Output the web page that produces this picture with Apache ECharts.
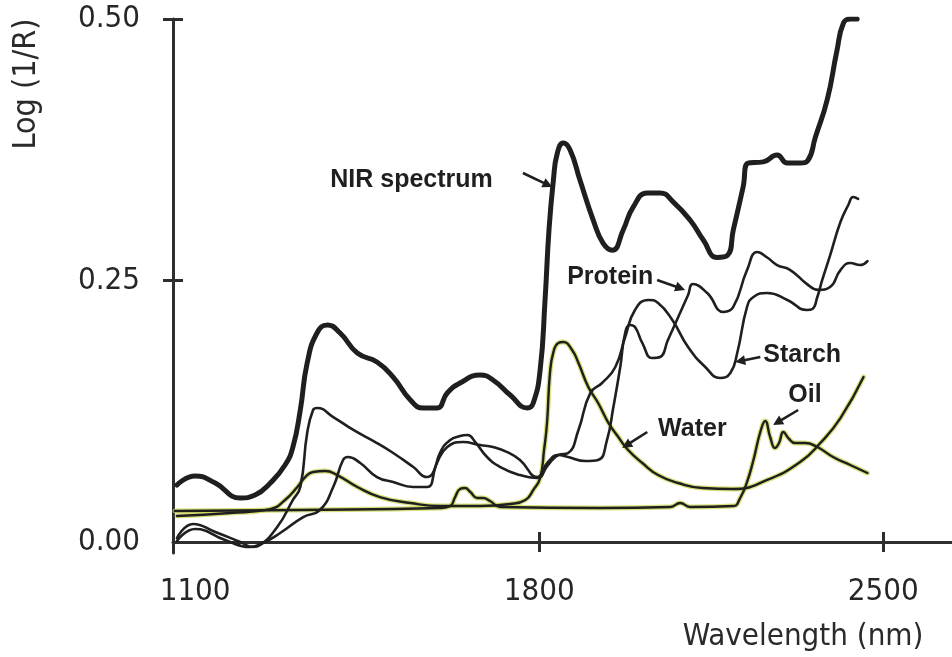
<!DOCTYPE html>
<html>
<head>
<meta charset="utf-8">
<script src="https://cdn.jsdelivr.net/npm/echarts@6/dist/echarts.min.js"></script>
<style>
  html, body { margin: 0; padding: 0; background: #ffffff; }
  #chart { width: 952px; height: 657px; }
</style>
</head>
<body>
<div id="chart"></div>
<script>
// Wavelength (nm) and log(1/R) pairs for each spectrum
const nirSpectrum = [
  [1063,0.0545],[1100,0.0631],[1141,0.0564],[1192,0.0421],[1222,0.0449],[1253,0.0564],
  [1283,0.0736],[1299,0.0908],[1314,0.1262],[1328,0.1711],[1348,0.1998],[1369,0.2075],
  [1395,0.1998],[1430,0.1807],[1470,0.1721],[1503,0.1577],[1538,0.1358],[1564,0.1281],
  [1592,0.1281],[1613,0.1424],[1639,0.152],[1680,0.1597],[1706,0.1549],[1741,0.1405],
  [1776,0.1281],[1788,0.1329],[1802,0.1645],[1812,0.2314],[1820,0.2983],[1829,0.346],
  [1837,0.3719],[1849,0.3814],[1863,0.3748],[1883,0.346],[1910,0.3078],[1930,0.2858],
  [1949,0.279],[1971,0.2983],[1991,0.32],[2020,0.3337],[2046,0.3337],[2073,0.325],
  [2107,0.3078],[2134,0.2887],[2162,0.272],[2183,0.274],[2195,0.2983],[2215,0.3394],
  [2225,0.3623],[2256,0.3634],[2284,0.37],[2305,0.3623],[2331,0.3623],[2347,0.365],
  [2362,0.387],[2386,0.4226],[2406,0.47],[2419,0.496],[2433,0.5],[2447,0.5]
];
const waterBand = [
  [1063,0.0249],[1171,0.0277],[1253,0.0315],[1283,0.0402],[1308,0.0526],[1324,0.0621],
  [1340,0.0669],[1365,0.0679],[1389,0.064],[1430,0.0526],[1476,0.043],[1538,0.0373],
  [1599,0.0344],[1680,0.0344],[1741,0.0363],[1772,0.0402],[1788,0.0497],[1802,0.0612],
  [1810,0.088],[1816,0.1138],[1822,0.1616],[1829,0.1816],[1839,0.1902],[1849,0.1912],
  [1867,0.1836],[1880,0.1711],[1900,0.1482],[1920,0.1329],[1940,0.1147],[1961,0.1004],
  [1981,0.088],[2010,0.0755],[2042,0.064],[2083,0.0564],[2132,0.0516],[2195,0.0507],
  [2264,0.0593],[2331,0.0765],[2372,0.0946],[2413,0.1185],[2460,0.1577]
];
const oilBand = [
  [1059,0.0296],[1314,0.0306],[1599,0.0325],[1619,0.0344],[1629,0.043],[1639,0.0507],
  [1649,0.0516],[1660,0.0478],[1674,0.0421],[1686,0.0421],[1700,0.0392],[1721,0.0335],
  [1924,0.0325],[2067,0.0335],[2087,0.0373],[2107,0.0335],[2195,0.0344],[2209,0.0421],
  [2223,0.0574],[2236,0.0784],[2250,0.1052],[2260,0.1157],[2270,0.1004],[2280,0.0899],
  [2288,0.0946],[2297,0.1052],[2307,0.0994],[2321,0.0946],[2341,0.0946],[2366,0.0908],
  [2398,0.0813],[2433,0.0736],[2468,0.066]
];
const proteinBand = [
  [1063,0.001],[1100,0.0124],[1161,0.0019],[1212,-0.0048],[1238,-0.001],[1273,0.0086],
  [1320,0.0239],[1354,0.0306],[1381,0.0526],[1401,0.0784],[1411,0.0813],[1436,0.0755],
  [1470,0.0621],[1503,0.0574],[1544,0.0526],[1572,0.0526],[1592,0.0755],[1613,0.0908],
  [1645,0.0956],[1680,0.0927],[1706,0.0908],[1735,0.086],[1761,0.0784],[1796,0.0621],
  [1818,0.0765],[1839,0.0832],[1859,0.0813],[1894,0.0774],[1920,0.0784],[1938,0.0975],
  [1951,0.129],[1965,0.1673],[1975,0.1998],[1985,0.2075],[1995,0.2055],[2010,0.1902],
  [2030,0.1759],[2046,0.1769],[2062,0.1931],[2083,0.2151],[2103,0.2361],[2113,0.2466],
  [2142,0.238],[2175,0.2199],[2195,0.2247],[2223,0.26],[2244,0.2772],[2264,0.272],
  [2284,0.2648],[2311,0.26],[2345,0.2466],[2368,0.241],[2392,0.2438],[2413,0.26],
  [2433,0.2667],[2453,0.2648],[2468,0.2686]
];
const starchBand = [
  [1063,0.0038],[1096,0.0172],[1141,0.0096],[1192,0.0],[1218,-0.0048],[1232,-0.0029],
  [1267,0.0143],[1299,0.0402],[1314,0.0526],[1328,0.1042],[1340,0.1262],[1348,0.1281],
  [1381,0.1195],[1422,0.1071],[1470,0.0946],[1503,0.0851],[1544,0.0717],[1572,0.0621],
  [1584,0.066],[1599,0.086],[1619,0.0975],[1639,0.1013],[1654,0.1023],[1670,0.0956],
  [1694,0.0813],[1721,0.0717],[1761,0.064],[1796,0.0612],[1818,0.0736],[1839,0.0832],
  [1859,0.0851],[1880,0.1071],[1904,0.1424],[1928,0.152],[1955,0.1673],[1975,0.196],
  [1995,0.2218],[2022,0.2314],[2042,0.2285],[2071,0.2122],[2103,0.1864],[2138,0.1673],
  [2168,0.1568],[2189,0.1616],[2203,0.1807],[2223,0.2247],[2236,0.2342],[2264,0.238],
  [2305,0.2314],[2345,0.2218],[2356,0.2228],[2366,0.2342],[2376,0.2505],[2392,0.274],
  [2413,0.3059],[2429,0.3222],[2439,0.3298],[2449,0.328]
];

// Axis tick values
const wavelengthLabels = [1100, 1800, 2500];
const wavelengthTicks = [1800, 2500];
const absorbanceLabels = [0, 0.25, 0.5];
const absorbanceTicks = [0.25, 0.5];

// Callouts: text, text anchor (left, middle) and arrow tail -> head, in data units
const calloutText = ['NIR spectrum', 'Protein', 'Starch', 'Water', 'Oil'];
const calloutAnchor = [[1375,0.346],[1857,0.2533],[2256,0.1788],[2042,0.108],[2307,0.1405]];
const calloutTail = [[1767,0.3528],[2040,0.2505],[2250,0.1769],[2020,0.1052],[2327,0.1262]];
const calloutHead = [[1827,0.3394],[2097,0.241],[2199,0.1721],[1969,0.0899],[2276,0.1119]];

const INK = '#1f1f1f';
const AXIS = '#2e2e2e';
const GLOW = 'rgba(206,214,80,0.75)';
const tickFont = 'DejaVu Sans Condensed, DejaVu Sans, sans-serif';

const chart = echarts.init(document.getElementById('chart'), null, { renderer: 'canvas' });

function bandSeries(name, data, width, glow) {
  const out = [];
  const common = { type: 'line', data: data, showSymbol: false, symbol: 'none',
    smooth: 0.5, silent: true, animation: false };
  if (glow) {
    out.push(Object.assign({}, common, { name: name + ' glow', z: 2,
      lineStyle: { color: GLOW, width: width + 2.5, cap: 'round', join: 'round' } }));
  }
  out.push(Object.assign({}, common, { name: name, z: 3,
    lineStyle: { color: INK, width: width, cap: 'round', join: 'round' } }));
  return out;
}

const xMin = 1055, xMax = 2640, yMin = -0.0105, yMax = 0.5;

chart.setOption({
  backgroundColor: '#ffffff',
  animation: false,
  grid: { left: 173, right: 0, top: 19, bottom: 104, containLabel: false },
  xAxis: [
    {
      type: 'value', min: xMin, max: xMax, position: 'bottom',
      axisLine: { show: true, lineStyle: { color: AXIS, width: 3 } },
      axisTick: { show: true, inside: false, length: 10, customValues: wavelengthTicks,
        lineStyle: { color: AXIS, width: 3 } },
      axisLabel: { show: true, customValues: wavelengthLabels, margin: 23,
        fontFamily: tickFont, fontSize: 31, color: '#262626',
        formatter: function (v) { return String(Math.round(v)); } },
      splitLine: { show: false }
    },
    {
      type: 'value', min: xMin, max: xMax, position: 'bottom', gridIndex: 0,
      axisLine: { show: false },
      axisTick: { show: true, inside: true, length: 10, customValues: wavelengthTicks,
        lineStyle: { color: AXIS, width: 3 } },
      axisLabel: { show: false },
      splitLine: { show: false }
    }
  ],
  yAxis: [
    {
      type: 'value', min: yMin, max: yMax, position: 'left',
      axisLine: { show: true, lineStyle: { color: AXIS, width: 3 } },
      axisTick: { show: true, inside: false, length: 10, customValues: absorbanceTicks,
        lineStyle: { color: AXIS, width: 3 } },
      axisLabel: { show: true, customValues: absorbanceLabels, margin: 33,
        fontFamily: tickFont, fontSize: 31, color: '#262626',
        formatter: function (v) { return Number(v).toFixed(2); } },
      splitLine: { show: false }
    },
    {
      type: 'value', min: yMin, max: yMax, position: 'left', gridIndex: 0,
      axisLine: { show: false },
      axisTick: { show: true, inside: true, length: 10, customValues: absorbanceTicks,
        lineStyle: { color: AXIS, width: 3 } },
      axisLabel: { show: false },
      splitLine: { show: false }
    }
  ],
  series: [].concat(
    bandSeries('Oil', oilBand, 2.4, true),
    bandSeries('Water', waterBand, 2.4, true),
    bandSeries('Protein', proteinBand, 2.6, false),
    bandSeries('Starch', starchBand, 2.6, false),
    bandSeries('NIR spectrum', nirSpectrum, 5, false)
  )
});

// Callout arrows and labels placed through the chart's own coordinate system
const graphics = [
  { type: 'text', x: 27, y: 84, rotation: Math.PI / 2, z: 10,
    style: { text: 'Log (1/R)', fontFamily: tickFont, fontSize: 32, fill: '#2a2a2a',
      textAlign: 'center', textVerticalAlign: 'middle' } },
  { type: 'text', x: 803, y: 637, z: 10,
    style: { text: 'Wavelength (nm)', fontFamily: tickFont, fontSize: 31, fill: '#2a2a2a',
      textAlign: 'center', textVerticalAlign: 'middle' } }
];

calloutText.forEach(function (label, i) {
  const a = chart.convertToPixel({ gridIndex: 0 }, calloutAnchor[i]);
  const t = chart.convertToPixel({ gridIndex: 0 }, calloutTail[i]);
  const h = chart.convertToPixel({ gridIndex: 0 }, calloutHead[i]);
  const dx = h[0] - t[0], dy = h[1] - t[1];
  const len = Math.sqrt(dx * dx + dy * dy);
  const ux = dx / len, uy = dy / len;
  const headLen = 10, headHalf = 5;
  const bx = h[0] - ux * headLen, by = h[1] - uy * headLen;
  graphics.push({ type: 'line', z: 10, silent: true,
    shape: { x1: t[0], y1: t[1], x2: bx + ux * 2, y2: by + uy * 2 },
    style: { stroke: INK, lineWidth: 2.6 } });
  graphics.push({ type: 'polygon', z: 10, silent: true,
    shape: { points: [[h[0], h[1]], [bx - uy * headHalf, by + ux * headHalf], [bx + uy * headHalf, by - ux * headHalf]] },
    style: { fill: INK } });
  graphics.push({ type: 'text', x: a[0], y: a[1], z: 10, silent: true,
    style: { text: label, fontFamily: 'Liberation Sans, Arial, sans-serif', fontWeight: 'bold',
      fontSize: 25, fill: INK, textAlign: 'left', textVerticalAlign: 'middle' } });
});

chart.setOption({ graphic: graphics });
</script>
</body>
</html>
